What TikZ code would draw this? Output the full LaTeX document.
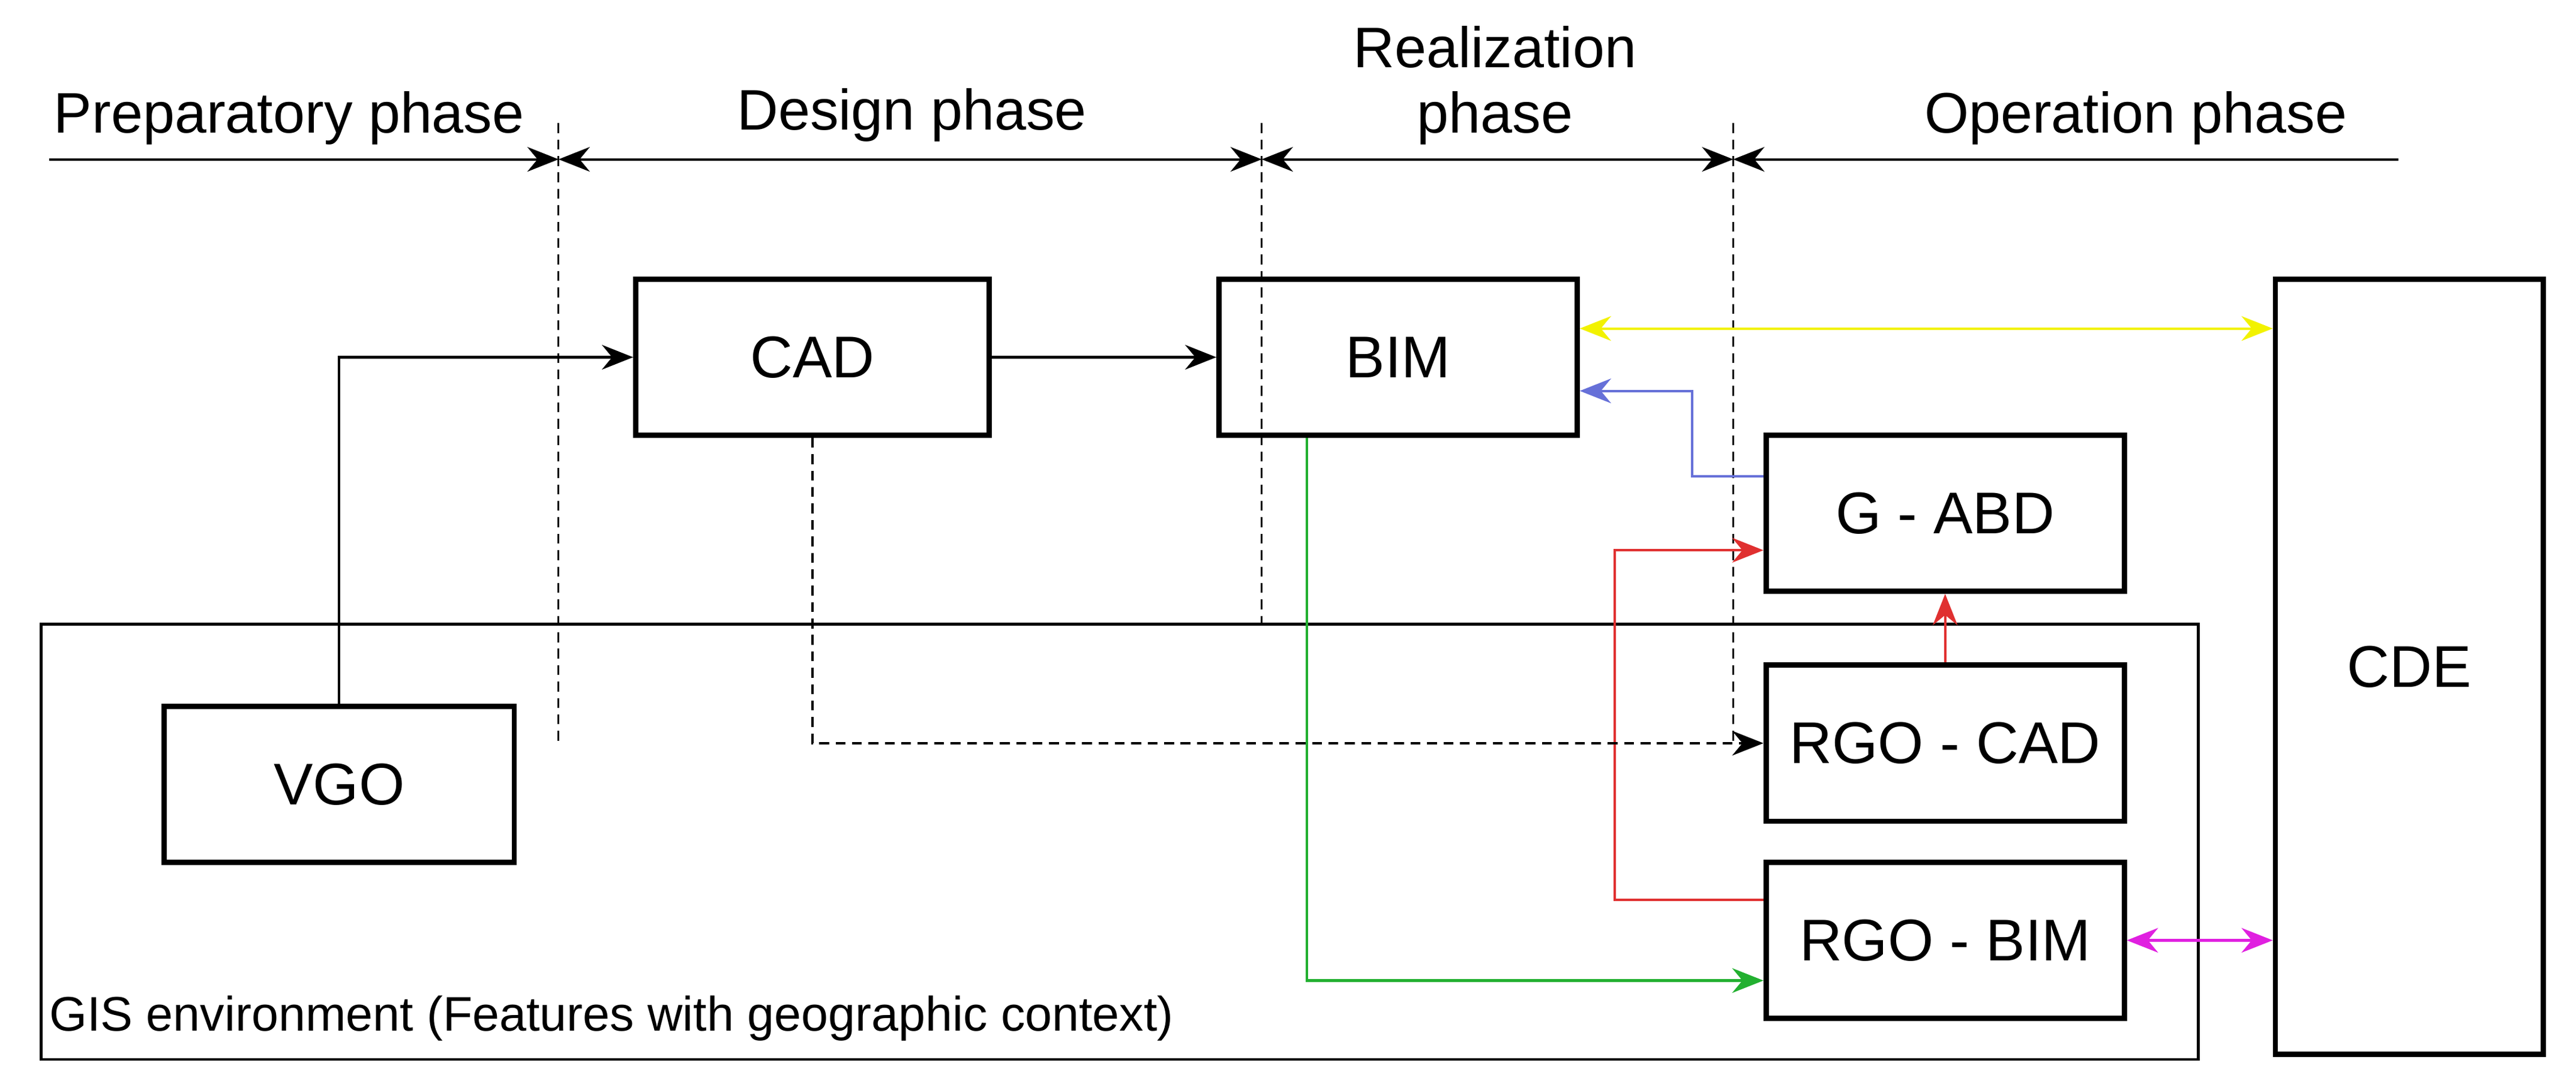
\documentclass[tikz,border=0pt]{standalone}
\usepackage{fontspec}
\setmainfont{Liberation Sans}
\usetikzlibrary{arrows.meta}
\definecolor{cyel}{HTML}{F2F200}
\definecolor{cblu}{HTML}{6670D8}
\definecolor{cred}{HTML}{E03030}
\definecolor{cgrn}{HTML}{22B030}
\definecolor{cmag}{HTML}{E020E0}
\begin{document}
\begin{tikzpicture}[x=1mm,y=-1mm,
  box/.style={draw=black,line width=3.2mm,rectangle,inner sep=0pt,font=\fontsize{102}{114}\selectfont},
  con/.style={line width=1.5mm,-{Stealth[length=19mm,width=15mm]}},
  dcon/.style={line width=1.5mm,{Stealth[length=19mm,width=15mm]}-{Stealth[length=19mm,width=15mm]}},
  phase/.style={font=\fontsize{99}{114}\selectfont,align=center},
  div/.style={line width=1.1mm,dash pattern=on 6mm off 4mm}]
\useasboundingbox (0,0) rectangle (1568,658);
% GIS environment
\draw[line width=1.6mm] (25,380) rectangle (1338,645);
\node[anchor=south west,inner sep=0pt,font=\fontsize{84}{90}\selectfont] (gis) at (30,634) {GIS environment (Features with geographic context)};
% dividers
\draw[div] (340,75) -- (340,455);
\draw[div] (768,75) -- (768,380);
\draw[div] (1055,75) -- (1055,455);
% phase arrows
\coordinate (d0) at (30,97);
\coordinate (d1) at (340,97);
\coordinate (d2) at (768,97);
\coordinate (d3) at (1055,97);
\coordinate (d4) at (1460,97);
\draw[con] (d0) -- (d1);
\draw[dcon] (d1) -- (d2);
\draw[dcon] (d2) -- (d3);
\draw[line width=1.5mm,{Stealth[length=19mm,width=15mm]}-] (d3) -- (d4);
\node[phase] (p1) at (176,72) {Preparatory phase};
\node[phase] (p2) at (555,70) {Design phase};
\node[phase] (p3) at (910,52) {Realization\\phase};
\node[phase] (p4) at (1300,72) {Operation phase};
% boxes
\node[box,minimum width=215mm,minimum height=95mm] (CAD) at (494.5,217.5) {CAD};
\node[box,minimum width=218mm,minimum height=95mm] (BIM) at (851,217.5) {BIM};
\node[box,minimum width=163mm,minimum height=472mm] (CDE) at (1466.5,406) {CDE};
\node[box,minimum width=218mm,minimum height=95mm] (GABD) at (1184,312.5) {G - ABD};
\node[box,minimum width=218mm,minimum height=95mm] (RGOCAD) at (1184,452.5) {RGO - CAD};
\node[box,minimum width=218mm,minimum height=95mm] (RGOBIM) at (1184,572.5) {RGO - BIM};
\node[box,minimum width=213mm,minimum height=95mm] (VGO) at (206.5,477.5) {VGO};
% connectors
\draw[con] (VGO.north) |- (CAD.west);
\draw[con] (CAD.east) -- (BIM.east -| BIM.west);
\draw[dcon,draw=cyel,color=cyel] (BIM.east |- 0,200) -- (CDE.west |- 0,200);
\draw[con,draw=cblu,color=cblu] (GABD.west |- 0,290) -- (1030,290) |- (BIM.east |- 0,238);
\draw[con,draw=cred,color=cred] (RGOBIM.west |- 0,548) -- (983,548) |- (GABD.west |- 0,335);
\draw[con,draw=cred,color=cred] (RGOCAD.north) -- (GABD.south);
\draw[con,dash pattern=on 6mm off 4mm] (CAD.south) |- (RGOCAD.west);
\draw[con,draw=cgrn,color=cgrn] ([xshift=55mm]BIM.south west) |- (RGOBIM.west |- 0,597);
\draw[dcon,draw=cmag,color=cmag] (RGOBIM.east) -- (CDE.west |- RGOBIM.east);
\end{tikzpicture}
\end{document}
